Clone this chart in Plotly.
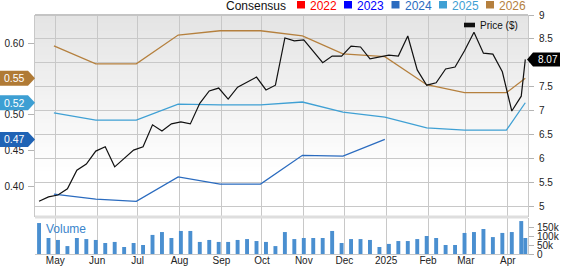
import plotly.graph_objects as go
import pandas as pd

# ---------------- data ----------------
week_dates = list(pd.date_range("2024-04-19", periods=52, freq="7D")) + [pd.Timestamp("2025-04-14")]
price = [5.10, 5.19, 5.23, 5.36, 5.75, 5.88, 6.15, 6.24, 5.82, 6.00,
         6.17, 6.24, 6.70, 6.57, 6.72, 6.76, 6.72, 7.15, 7.41, 7.47,
         7.24, 7.49, 7.60, 7.70, 7.43, 7.53, 8.52, 8.46, 8.48, 8.23,
         8.00, 8.14, 8.14, 8.35, 8.33, 8.08, 8.12, 8.16, 8.14, 8.56,
         7.85, 7.53, 7.58, 7.87, 7.91, 8.25, 8.64, 8.20, 8.18, 7.81,
         6.99, 7.30, 8.07]
volume = [172, 89, 78, 44, 89, 83, 78, 61, 67, 39,
          61, 50, 106, 122, 89, 128, 128, 67, 78, 67,
          67, 78, 83, 72, 67, 44, 122, 83, 89, 89,
          89, 128, 61, 83, 83, 78, 39, 56, 72, 72,
          83, 100, 89, 50, 50, 117, 122, 139, 94, 117,
          122, 183, 89]
volume = [v * 1000 for v in volume]

eps_dates = ["2024-04-30", "2024-05-31", "2024-06-30", "2024-07-31", "2024-08-31",
             "2024-09-30", "2024-10-31", "2024-11-30", "2024-12-31", "2025-01-31",
             "2025-02-28", "2025-03-31", "2025-04-14"]
eps_2024 = [0.390, 0.383, 0.380, 0.414, 0.404, 0.404, 0.444, 0.443, 0.466]
eps_2025 = [0.503, 0.493, 0.493, 0.515, 0.514, 0.514, 0.518, 0.504, 0.497, 0.482, 0.479, 0.479, 0.517]
eps_2026 = [0.596, 0.571, 0.571, 0.611, 0.617, 0.617, 0.610, 0.585, 0.581, 0.542, 0.531, 0.531, 0.551]

month_ticks = ["2024-05-01", "2024-06-01", "2024-07-01", "2024-08-01", "2024-09-01", "2024-10-01",
               "2024-11-01", "2024-12-01", "2025-01-01", "2025-02-01", "2025-03-01", "2025-04-01"]
month_labels = ["May", "Jun", "Jul", "Aug", "Sep", "Oct", "Nov", "Dec", "2025", "Feb", "Mar", "Apr"]

price_ticks = [5, 5.5, 6, 6.5, 7, 7.5, 8, 8.5, 9]
price_tick_labels = ["5", "5.5", "6", "6.5", "7", "7.5", "", "8.5", "9"]  # "8" sits under the price tag

legend_years = ["2022", "2023", "2024", "2025", "2026"]

# ---------------- style ----------------
C2022, C2023, C2024, C2025, C2026 = "#ff0000", "#0000ff", "#2a6bbf", "#3fa0d4", "#b5803e"
CVOL = "#4a8fd0"
GRID = "#c8c8c8"
FONT = "Liberation Sans, Arial, sans-serif"

W, H = 562, 266
L, R, T, B = 35, 34, 15, 12
PW, PH = W - L - R, H - T - B


def px(x):
    return (x - L) / PW


def py(y):
    return (H - B - y) / PH


price_dom = [py(217), 1]
vol_dom = [0, py(218)]
eps_range = [0.3583, 0.6389]
price_range = [4.77, 9]
xr = ["2024-04-16", "2025-04-16"]

fig = go.Figure()

for vals, col in [(eps_2024, C2024), (eps_2025, C2025), (eps_2026, C2026)]:
    fig.add_trace(go.Scatter(x=eps_dates[:len(vals)], y=vals, mode="lines",
                             line=dict(color=col, width=1.3), xaxis="x", yaxis="y",
                             showlegend=False, hoverinfo="skip"))

fig.add_trace(go.Scatter(x=week_dates, y=price, mode="lines",
                         line=dict(color="#111111", width=1.2), xaxis="x", yaxis="y2",
                         showlegend=False, hoverinfo="skip"))

fig.add_trace(go.Bar(x=week_dates, y=volume, marker=dict(color=CVOL, line=dict(width=0)),
                     width=2.9 * 86400000, xaxis="x2", yaxis="y3",
                     showlegend=False, hoverinfo="skip"))

tickfont = dict(family=FONT, size=10, color="#222222")

fig.update_layout(
    width=W, height=H,
    margin=dict(l=L, r=R, t=T, b=B, autoexpand=False),
    paper_bgcolor="white", plot_bgcolor="rgba(0,0,0,0)",
    showlegend=False,
    xaxis=dict(domain=[0, 1], anchor="y", range=xr, type="date", automargin=False,
               tickvals=month_ticks, showticklabels=False, ticks="",
               showgrid=True, gridcolor=GRID, gridwidth=1, zeroline=False,
               showline=False),
    xaxis2=dict(domain=[0, 1], anchor="y3", range=xr, type="date", matches="x",
                automargin=False, tickvals=month_ticks, ticktext=month_labels, ticks="",
                showgrid=True, gridcolor=GRID, gridwidth=1, zeroline=False,
                showline=True, linecolor=GRID, linewidth=1, ticklabelstandoff=-3,
                tickfont=tickfont),
    yaxis=dict(domain=price_dom, anchor="x", side="left", range=eps_range, automargin=False,
               tickvals=[0.40, 0.45, 0.50, 0.60], tickformat=".2f",
               showgrid=False, zeroline=False, ticks="outside", ticklen=6,
               tickcolor="#b4b4b4", showline=True, linecolor=GRID, linewidth=1,
               ticklabelstandoff=2, tickfont=tickfont),
    yaxis2=dict(overlaying="y", anchor="x", side="right", range=price_range, automargin=False,
                tickvals=price_ticks, ticktext=price_tick_labels,
                showgrid=True, gridcolor=GRID, gridwidth=1,
                zeroline=False, ticks="outside", ticklen=5, tickcolor="#b4b4b4",
                showline=True, linecolor=GRID, linewidth=1, ticklabelstandoff=3,
                tickfont=tickfont),
    yaxis3=dict(domain=vol_dom, anchor="x2", side="right", range=[0, 200000], automargin=False,
                tickvals=[0, 50000, 100000, 150000], ticktext=["0", "50k", "100k", "150k"],
                showgrid=False, zeroline=False, ticks="outside", ticklen=5,
                tickcolor="#b4b4b4", showline=True, linecolor=GRID, linewidth=1,
                ticklabelstandoff=1, tickfont=tickfont),
)

shapes = []
# gradient background for price panel
nb = 40
y_top, y_bot = 15, 175
for i in range(nb):
    ya = y_top + (y_bot - y_top) * i / nb
    yb = y_top + (y_bot - y_top) * (i + 1) / nb
    g = int(round(228 + 27 * (i + 0.5) / nb))
    shapes.append(dict(type="rect", xref="paper", yref="paper", x0=0, x1=1,
                       y0=py(yb), y1=py(ya), fillcolor=f"rgb({g},{g},{g})",
                       line=dict(width=0), layer="below"))
# top border & separator
shapes.append(dict(type="line", xref="paper", yref="paper", x0=0, x1=1, y0=1, y1=1,
                   line=dict(color="#c4c4c4", width=2)))
shapes.append(dict(type="line", xref="paper", yref="paper", x0=0, x1=1,
                   y0=py(217), y1=py(217), line=dict(color="#dedede", width=3)))

annotations = []

# top legend
annotations.append(dict(xref="paper", yref="paper", x=px(224), y=py(6), xanchor="left",
                        yanchor="middle", text="Consensus", showarrow=False,
                        font=dict(family=FONT, size=12, color="#111111")))
leg_cols = [C2022, C2023, C2024, C2025, C2026]
sq_x = [297, 344, 391.5, 439, 486]
for yr, col, sx in zip(legend_years, leg_cols, sq_x):
    shapes.append(dict(type="rect", xref="paper", yref="paper", x0=px(sx), x1=px(sx + 8),
                       y0=py(8.5), y1=py(1), fillcolor=col, line=dict(width=0)))
    annotations.append(dict(xref="paper", yref="paper", x=px(sx + 11), y=py(6),
                            xanchor="left", yanchor="middle", text=yr, showarrow=False,
                            font=dict(family=FONT, size=12, color=col)))

# price legend inside plot
shapes.append(dict(type="rect", xref="paper", yref="paper", x0=px(464), x1=px(475),
                   y0=py(27.3), y1=py(22.7), fillcolor="#111111", line=dict(width=0)))
annotations.append(dict(xref="paper", yref="paper", x=px(478), y=py(26), xanchor="left",
                        yanchor="middle", text="Price ($)", showarrow=False,
                        font=dict(family=FONT, size=10, color="#111111")))

# volume label
annotations.append(dict(xref="paper", yref="paper", x=px(44), y=py(229), xanchor="left",
                        yanchor="middle", text="Volume", showarrow=False,
                        font=dict(family=FONT, size=12, color="#3a85cc")))

# left value tags
eps_px_per_unit = (217 - 15) / (eps_range[1] - eps_range[0])
hh = 7.5 / eps_px_per_unit
for vals, col in [(eps_2026, "#b07a35"), (eps_2025, "#3d9fd3"), (eps_2024, "#1f63b5")]:
    v = vals[-1]
    path = (f"M {px(0)},{v - hh} L {px(28)},{v - hh} L {px(35)},{v} "
            f"L {px(28)},{v + hh} L {px(0)},{v + hh} Z")
    shapes.append(dict(type="path", xref="paper", yref="y", path=path,
                       fillcolor=col, line=dict(width=0)))
    annotations.append(dict(xref="paper", yref="y", x=px(14.5), y=v, xanchor="center",
                            yanchor="middle", text=f"{v:.2f}", showarrow=False,
                            font=dict(family=FONT, size=10.5, color="white")))

# right price tag
pr_px_per_unit = (217 - 15) / (price_range[1] - price_range[0])
ph_ = 7 / pr_px_per_unit
pv = price[-1]
path = (f"M {px(527)},{pv} L {px(533)},{pv - ph_} L {px(560)},{pv - ph_} "
        f"L {px(560)},{pv + ph_} L {px(533)},{pv + ph_} Z")
shapes.append(dict(type="path", xref="paper", yref="y2", path=path,
                   fillcolor="#000000", line=dict(width=0)))
annotations.append(dict(xref="paper", yref="y2", x=px(547.5), y=pv, xanchor="center",
                        yanchor="middle", text=f"{pv:.2f}", showarrow=False,
                        font=dict(family=FONT, size=10, color="white")))

fig.update_layout(shapes=shapes, annotations=annotations)
fig.write_html("out.html")
